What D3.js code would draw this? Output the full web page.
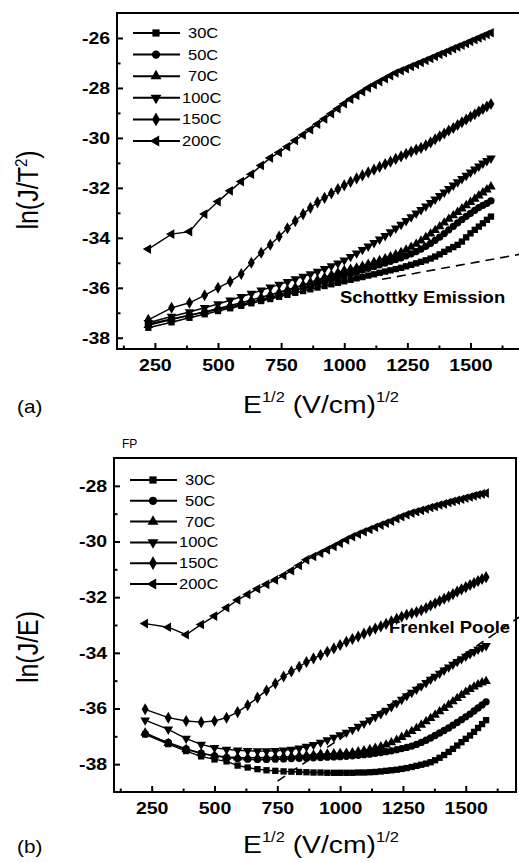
<!DOCTYPE html>
<html>
<head>
<meta charset="utf-8">
<script src="https://cdn.jsdelivr.net/npm/d3@7"></script>
<style>
  body { margin: 0; background: #fff; }
  svg { display: block; font-family: "Liberation Sans", Arial, sans-serif; }
</style>
</head>
<body>
<div id="chart"></div>
<script>
// x values: E^1/2 (V/cm)^1/2, same for every series
const sqrtE = [224, 316, 387, 447, 500, 548, 592, 632, 671, 707, 742, 775, 806, 837, 866, 894, 922, 949, 975, 1000,
  1025, 1049, 1072, 1095, 1118, 1140, 1162, 1183, 1204, 1225, 1245, 1265, 1285, 1304, 1323, 1342, 1360, 1378, 1396, 1414,
  1432, 1449, 1466, 1483, 1500, 1517, 1533, 1549, 1565, 1581];

const temps = ["30C", "50C", "70C", "100C", "150C", "200C"];

// (a) ln(J/T^2)
const a30 = [-37.6, -37.38, -37.2, -37.06, -36.93, -36.82, -36.72, -36.62, -36.53, -36.45,
  -36.36, -36.28, -36.2, -36.13, -36.06, -35.99, -35.93, -35.86, -35.8, -35.74,
  -35.68, -35.62, -35.57, -35.51, -35.46, -35.4, -35.35, -35.3, -35.25, -35.2,
  -35.14, -35.08, -35.02, -34.96, -34.9, -34.83, -34.75, -34.66, -34.56, -34.46,
  -34.37, -34.28, -34.15, -33.98, -33.82, -33.68, -33.55, -33.42, -33.28, -33.15];
const a50 = [-37.45, -37.25, -37.1, -36.98, -36.87, -36.77, -36.67, -36.57, -36.47, -36.38,
  -36.29, -36.2, -36.11, -36.02, -35.93, -35.84, -35.75, -35.66, -35.58, -35.5,
  -35.43, -35.36, -35.29, -35.22, -35.15, -35.08, -35.01, -34.94, -34.87, -34.8,
  -34.72, -34.64, -34.55, -34.45, -34.34, -34.22, -34.1, -33.97, -33.83, -33.68,
  -33.54, -33.4, -33.27, -33.14, -33.02, -32.9, -32.79, -32.7, -32.62, -32.52];
const a70 = [-37.5, -37.27, -37.1, -36.96, -36.83, -36.71, -36.6, -36.49, -36.38, -36.28,
  -36.18, -36.08, -35.98, -35.88, -35.78, -35.68, -35.58, -35.48, -35.39, -35.3,
  -35.25, -35.2, -35.13, -35.05, -34.97, -34.9, -34.83, -34.75, -34.67, -34.58,
  -34.48, -34.37, -34.25, -34.12, -33.98, -33.84, -33.7, -33.55, -33.4, -33.25,
  -33.11, -32.97, -32.83, -32.7, -32.57, -32.44, -32.31, -32.19, -32.07, -31.95];
const a100 = [-37.4, -37.15, -36.97, -36.8, -36.65, -36.5, -36.36, -36.23, -36.1, -35.98,
  -35.87, -35.76, -35.65, -35.55, -35.45, -35.35, -35.24, -35.13, -35.02, -34.9,
  -34.76, -34.62, -34.48, -34.34, -34.2, -34.06, -33.92, -33.77, -33.62, -33.47,
  -33.32, -33.17, -33.02, -32.88, -32.74, -32.6, -32.46, -32.32, -32.18, -32.04,
  -31.9, -31.77, -31.64, -31.51, -31.38, -31.26, -31.14, -31.02, -30.92, -30.82];
const a150 = [-37.28, -36.8, -36.6, -36.3, -36.0, -35.75, -35.45, -35.0, -34.6, -34.28,
  -33.95, -33.62, -33.33, -33.05, -32.8, -32.58, -32.4, -32.22, -32.05, -31.9,
  -31.76, -31.62, -31.5, -31.38, -31.27, -31.16, -31.05, -30.95, -30.84, -30.74,
  -30.64, -30.55, -30.47, -30.4, -30.3, -30.18, -30.05, -29.93, -29.82, -29.7,
  -29.6, -29.48, -29.37, -29.26, -29.15, -29.05, -28.94, -28.84, -28.74, -28.64];
const a200 = [-34.45, -33.85, -33.75, -33.05, -32.55, -32.12, -31.75, -31.45, -31.1, -30.8,
  -30.58, -30.35, -30.1, -29.88, -29.67, -29.45, -29.24, -29.03, -28.83, -28.63,
  -28.45, -28.3, -28.15, -28.0, -27.87, -27.75, -27.63, -27.51, -27.4, -27.31,
  -27.23, -27.14, -27.06, -26.98, -26.9, -26.82, -26.74, -26.66, -26.59, -26.51,
  -26.43, -26.36, -26.29, -26.22, -26.14, -26.07, -26.0, -25.93, -25.86, -25.79];

// (b) ln(J/E)
const b30 = [-36.93, -37.28, -37.53, -37.72, -37.83, -37.9, -38.05, -38.12, -38.18, -38.22,
  -38.24, -38.26, -38.27, -38.28, -38.29, -38.3, -38.3, -38.31, -38.31, -38.31,
  -38.31, -38.31, -38.3, -38.3, -38.29, -38.28, -38.26, -38.24, -38.22, -38.2,
  -38.17, -38.14, -38.1, -38.06, -38.02, -37.98, -37.93, -37.86, -37.77, -37.67,
  -37.56, -37.45, -37.33, -37.21, -37.09, -36.97, -36.84, -36.7, -36.56, -36.42];
const b50 = [-36.92, -37.22, -37.45, -37.6, -37.7, -37.76, -37.8, -37.82, -37.83, -37.83,
  -37.82, -37.81, -37.8, -37.79, -37.78, -37.77, -37.76, -37.75, -37.74, -37.73,
  -37.72, -37.7, -37.68, -37.66, -37.64, -37.61, -37.58, -37.55, -37.52, -37.48,
  -37.44, -37.4, -37.35, -37.29, -37.22, -37.14, -37.06, -36.97, -36.88, -36.79,
  -36.7, -36.6, -36.5, -36.4, -36.3, -36.2, -36.09, -35.98, -35.87, -35.76];
const b70 = [-36.87, -37.25, -37.47, -37.62, -37.7, -37.74, -37.76, -37.77, -37.77, -37.76,
  -37.75, -37.73, -37.72, -37.7, -37.68, -37.66, -37.64, -37.63, -37.62, -37.61,
  -37.6, -37.58, -37.55, -37.51, -37.47, -37.42, -37.37, -37.3, -37.22, -37.13,
  -37.03, -36.93, -36.82, -36.71, -36.59, -36.47, -36.35, -36.23, -36.11, -35.99,
  -35.87, -35.75, -35.63, -35.52, -35.41, -35.31, -35.22, -35.14, -35.07, -35.02];
const b100 = [-36.42, -36.75, -37.08, -37.29, -37.41, -37.47, -37.5, -37.52, -37.53, -37.53,
  -37.52, -37.5, -37.47, -37.43, -37.37, -37.3, -37.22, -37.13, -37.04, -36.95,
  -36.86, -36.76, -36.65, -36.54, -36.42, -36.3, -36.2, -36.07, -35.94, -35.81,
  -35.68, -35.55, -35.43, -35.32, -35.2, -35.08, -34.96, -34.85, -34.74, -34.63,
  -34.52, -34.42, -34.32, -34.22, -34.13, -34.04, -33.96, -33.88, -33.81, -33.75];
const b150 = [-36.03, -36.33, -36.45, -36.49, -36.45, -36.33, -36.13, -35.88, -35.61, -35.35,
  -35.1, -34.85, -34.67, -34.5, -34.33, -34.2, -34.08, -33.96, -33.84, -33.72,
  -33.6, -33.5, -33.41, -33.31, -33.22, -33.13, -33.05, -32.96, -32.87, -32.78,
  -32.7, -32.63, -32.58, -32.53, -32.47, -32.39, -32.3, -32.22, -32.14, -32.06,
  -31.98, -31.89, -31.8, -31.72, -31.64, -31.56, -31.49, -31.42, -31.35, -31.28];
const b200 = [-32.95, -33.08, -33.35, -32.98, -32.68, -32.38, -32.1, -31.9, -31.7, -31.54,
  -31.38, -31.22, -31.05, -30.86, -30.66, -30.54, -30.42, -30.3, -30.18, -30.06,
  -29.94, -29.83, -29.74, -29.65, -29.57, -29.49, -29.41, -29.34, -29.27, -29.18,
  -29.11, -29.04, -28.98, -28.93, -28.88, -28.83, -28.78, -28.74, -28.69, -28.65,
  -28.6, -28.56, -28.52, -28.48, -28.44, -28.4, -28.36, -28.32, -28.29, -28.26];

// fitted dashed lines (x, y end points)
const schottkyFitX = [1150, 1700], schottkyFitY = [-35.66, -34.65];
const frenkelFitX = [751, 1720], frenkelFitY = [-38.61, -32.67];

const xTicks = [250, 500, 750, 1000, 1250, 1500];
const xMinor = [125, 375, 625, 875, 1125, 1375, 1625];
const aTicks = [-38, -36, -34, -32, -30, -28, -26];
const aMinor = [-37, -35, -33, -31, -29, -27];
const bTicks = [-38, -36, -34, -32, -30, -28];
const bMinor = [-37, -35, -33, -31, -29];

// marker per series (order of temps)
const markers = [
  { type: d3.symbolSquare, size: 40, rot: 0 },
  { type: d3.symbolCircle, size: 42, rot: 0 },
  { type: d3.symbolTriangle, size: 40, rot: 0 },
  { type: d3.symbolTriangle, size: 40, rot: 180 },
  { type: d3.symbolDiamond, size: 42, rot: 0 },
  { type: d3.symbolTriangle, size: 40, rot: -90 },
];

const W = 519, H = 862;
const svg = d3.select("#chart").append("svg").attr("width", W).attr("height", H);

// text that is a bit wider than the font, like the scanned figure
function stretched(parent, x, y, sx) {
  return parent.append("g")
    .attr("transform", `translate(${x},${y}) scale(${sx},1)`)
    .append("text");
}

// plain hyphen for negatives, as in the figure
const fmt = d => String(d);

function drawPanel(p) {
  const x = d3.scaleLinear().domain([100, 1700]).range([p.left, p.right]);
  const y = d3.scaleLinear().domain(p.yDomain).range([p.bottom, p.top]);
  const g = svg.append("g");

  // y axis ticks (inward) + labels
  const ya = g.append("g").attr("transform", `translate(${p.left},0)`)
    .call(d3.axisLeft(y).tickValues(p.yTicks).tickSize(-6).tickPadding(6).tickFormat(fmt));
  ya.append("g").call(d3.axisLeft(y).tickValues(p.yMinor).tickSize(-3.5).tickFormat(""));
  ya.selectAll("path.domain").remove();
  ya.selectAll("line").attr("stroke-width", 2);
  ya.selectAll("text").attr("font-size", 17).attr("font-weight", "bold")
    .attr("font-family", "Liberation Sans, Arial, sans-serif")
    .attr("transform", "scale(1.15,1)").attr("fill", "#000");

  const xa = g.append("g").attr("transform", `translate(0,${p.bottom})`)
    .call(d3.axisBottom(x).tickValues(xTicks).tickSize(-6).tickPadding(p.xPad).tickFormat(fmt));
  xa.append("g").call(d3.axisBottom(x).tickValues(xMinor).tickSize(-3.5).tickFormat(""));
  xa.selectAll("path.domain").remove();
  xa.selectAll("line").attr("stroke-width", 2);
  xa.selectAll("text").attr("font-size", 17).attr("font-weight", "bold")
    .attr("font-family", "Liberation Sans, Arial, sans-serif")
    .attr("transform", "scale(1.15,1)").attr("fill", "#000");

  // frame
  g.append("rect")
    .attr("x", p.left).attr("y", p.top)
    .attr("width", p.right - p.left).attr("height", p.bottom - p.top)
    .attr("fill", "none").attr("stroke", "#000").attr("stroke-width", 2);

  // fitted dashed line
  g.append("line")
    .attr("x1", x(p.fitX[0])).attr("y1", y(p.fitY[0]))
    .attr("x2", x(p.fitX[1])).attr("y2", y(p.fitY[1]))
    .attr("stroke", "#000").attr("stroke-width", 1.6).attr("stroke-dasharray", "9,6");

  // series
  const line = d3.line().x((d, i) => x(sqrtE[i])).y(d => y(d));
  p.series.forEach((vals, k) => {
    const m = markers[k];
    const sym = d3.symbol().type(m.type).size(m.size);
    g.append("path").attr("d", line(vals))
      .attr("fill", "none").attr("stroke", "#000").attr("stroke-width", 1.4);
    g.append("g").selectAll("path").data(vals).enter().append("path")
      .attr("d", sym)
      .attr("transform", (d, i) => `translate(${x(sqrtE[i])},${y(d)}) rotate(${m.rot})`)
      .attr("fill", "#000");
  });

  // legend
  temps.forEach((t, k) => {
    const ly = p.legY + k * p.legStep;
    const m = markers[k];
    g.append("line").attr("x1", p.legX).attr("x2", p.legX + 47)
      .attr("y1", ly).attr("y2", ly).attr("stroke", "#000").attr("stroke-width", 2);
    g.append("path").attr("d", d3.symbol().type(m.type).size(m.size + 12))
      .attr("transform", `translate(${p.legX + 23},${ly}) rotate(${m.rot})`).attr("fill", "#000");
    stretched(g, p.legX + (t.length < 4 ? 55 : 49), ly + 5, 1.18)
      .attr("font-size", 14).text(t);
  });

  // fit label
  stretched(g, p.fitLabel[0], p.fitLabel[1], 1.12)
    .attr("font-size", 16.5).attr("font-weight", "bold").text(p.fitText);

  // y title
  const yt = g.append("g")
    .attr("transform", `translate(${p.yTitle[0]},${p.yTitle[1]}) rotate(-90) scale(1,1.15)`)
    .append("text").attr("text-anchor", "middle").attr("font-size", 25);
  yt.append("tspan").text(p.yText);
  if (p.ySup) {
    yt.append("tspan").attr("dy", -10).attr("font-size", 15).text(p.ySup);
    yt.append("tspan").attr("dy", 10).text(")");
  }

  // x title
  const xt = stretched(g, 243, p.xTitleY, 1.18).attr("font-size", 24);
  xt.append("tspan").text("E");
  xt.append("tspan").attr("dy", -11).attr("font-size", 14).text("1/2");
  xt.append("tspan").attr("dy", 11).text(" (V/cm)");
  xt.append("tspan").attr("dy", -11).attr("font-size", 14).text("1/2");

  // panel letter
  stretched(g, 17, p.xTitleY, 1.15).attr("font-size", 18).text(p.letter);
}

drawPanel({
  left: 117, right: 521, top: 13, bottom: 349,
  yDomain: [-38.45, -25], yTicks: aTicks, yMinor: aMinor, xPad: 10,
  series: [a30, a50, a70, a100, a150, a200],
  fitX: schottkyFitX, fitY: schottkyFitY,
  fitText: "Schottky Emission", fitLabel: [340, 303],
  legX: 133, legY: 33, legStep: 21.6,
  yTitle: [38, 190], yText: "ln(J/T", ySup: "2",
  xTitleY: 413, letter: "(a)"
});

drawPanel({
  left: 114, right: 516, top: 458, bottom: 792,
  yDomain: [-39, -27], yTicks: bTicks, yMinor: bMinor, xPad: 10,
  series: [b30, b50, b70, b100, b150, b200],
  fitX: frenkelFitX, fitY: frenkelFitY,
  fitText: "Frenkel Poole", fitLabel: [389, 633],
  legX: 130, legY: 480, legStep: 20.8,
  yTitle: [38, 647], yText: "ln(J/E)", ySup: null,
  xTitleY: 853, letter: "(b)"
});

// small "FP" tag above panel (b)
svg.append("text").attr("x", 122).attr("y", 448).attr("font-size", 12).text("FP");
</script>
</body>
</html>
